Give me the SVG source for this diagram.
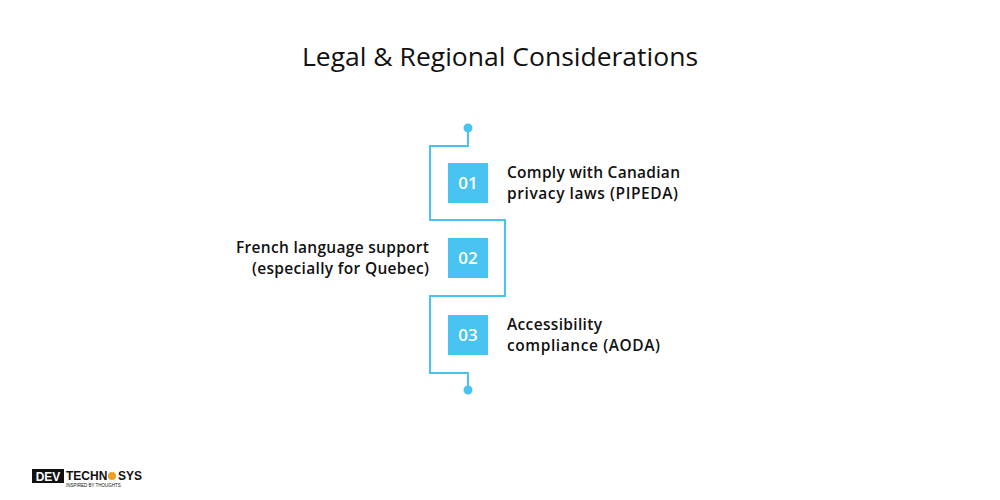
<svg xmlns="http://www.w3.org/2000/svg" width="1000" height="500" viewBox="0 0 1000 500">
<style>
.t{font-family:"Open Sans","Liberation Sans",sans-serif;font-size:15.5px;fill:#111;font-weight:600}
.n{font-family:"Open Sans","Liberation Sans",sans-serif;font-size:17px;fill:#fff;text-anchor:middle;font-weight:600}
.box{fill:#48c3f2}
</style>
<rect width="1000" height="500" fill="#fff"/>
<text x="500" y="66" text-anchor="middle" font-family="'Open Sans','Liberation Sans',sans-serif" font-size="25" font-weight="500" fill="#111" textLength="396" lengthAdjust="spacingAndGlyphs">Legal &amp; Regional Considerations</text>
<g id="connectors" fill="none" stroke="#48c3f2" stroke-width="2">
<path d="M468 128 V146 H430 V220 H505 V296 H430 V373 H468 V390"/>
<circle cx="468" cy="128" r="3.5" fill="#48c3f2"/>
<circle cx="468" cy="390" r="3.5" fill="#48c3f2"/>
</g>
<g id="n1"><rect class="box" x="448" y="163" width="40" height="40"/><text class="n" x="468" y="189">01</text>
<text class="t" x="507" y="178" textLength="173">Comply with Canadian</text><text class="t" x="507" y="199" textLength="171">privacy laws (PIPEDA)</text></g>
<g id="n2"><rect class="box" x="448" y="238" width="40" height="40"/><text class="n" x="468" y="264">02</text>
<text class="t" x="429" y="253" text-anchor="end" textLength="193">French language support</text><text class="t" x="429" y="274" text-anchor="end" textLength="177">(especially for Quebec)</text></g>
<g id="n3"><rect class="box" x="448" y="315" width="40" height="40"/><text class="n" x="468" y="341">03</text>
<text class="t" x="507" y="330" textLength="95">Accessibility</text><text class="t" x="507" y="351" textLength="153">compliance (AODA)</text></g>
<g id="logo">
<rect x="32" y="469" width="32" height="14" fill="#111"/>
<text x="48" y="481" text-anchor="middle" font-family="'Liberation Sans',sans-serif" font-weight="bold" font-size="12" fill="#fff">DEV</text>
<text x="66" y="480" font-family="'Liberation Sans',sans-serif" font-weight="bold" font-size="12" fill="#111">TECHN</text>
<circle cx="112" cy="476" r="4" fill="#f0a020"/>
<text x="118" y="480" font-family="'Liberation Sans',sans-serif" font-weight="bold" font-size="12" fill="#111">SYS</text>
<text x="66" y="487" font-family="'Liberation Sans',sans-serif" font-size="4.5" fill="#111">INSPIRED BY THOUGHTS</text>
</g>
</svg>
